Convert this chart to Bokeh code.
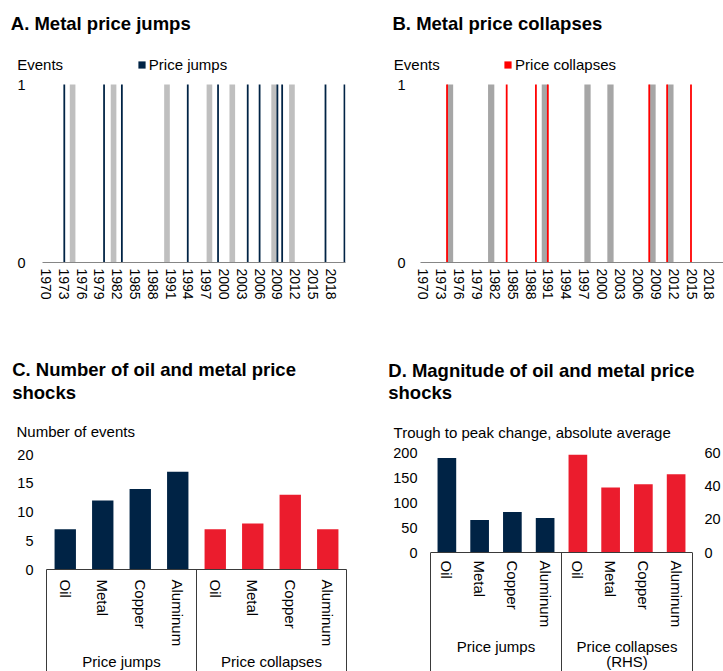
from bokeh.plotting import figure
from bokeh.models import (Range1d, FixedTicker, Label, Legend, LegendItem,
                          LinearAxis, Span)
from bokeh.layouts import column, row
from bokeh.embed import file_html
from bokeh.resources import INLINE

# ---------------- data ----------------
year_ticks = list(range(1970, 2019, 3))
metal_jump_dates = [1973.1, 1979.8, 1982.8, 1993.9, 1999.0, 2004.0, 2006.0, 2009.0, 2009.8, 2017.1, 2020.3]
metal_collapse_dates = [1974.0, 1984.0, 1988.9, 1990.9, 2007.9, 2010.9, 2014.9]
# shaded global recession / slowdown periods
slowdown_dates = [1974.5, 1981.4, 1990.4, 1997.55, 2001.4, 2008.45, 2011.45]

shock_types = ["Oil", "Metal", "Copper", "Aluminum"]
shock_groups = ["Price jumps", "Price collapses"]
count_jumps = [7, 12, 14, 17]
count_collapses = [7, 8, 13, 7]
magnitude_jumps = [189, 65, 81, 69]
magnitude_collapses_rhs = [58.6, 39, 41, 47]

count_ticks = [0, 5, 10, 15, 20]
magnitude_ticks = [0, 50, 100, 150, 200]
magnitude_rhs_ticks = [0, 20, 40, 60]

# ---------------- styles ----------------
FONT = "Liberation Sans"
NAVY = "#002345"
RED_LINE = "#FF0000"
RED_BAR = "#EB1C2D"
GREY_A = "#BFBFBF"
GREY_B = "#A6A6A6"
AXIS_GREY = "#868686"
BOX = "#3A3A3A"
TXT = 15
TICK = "14.5px"
TITLE = 18.5


class Geo:
    """page-pixel -> data converter for a figure whose frame is known"""
    def __init__(self, xr, yr, fl, fr, ft, fb):
        self.xr, self.yr, self.fl, self.fr, self.ft, self.fb = xr, yr, fl, fr, ft, fb

    def x(self, px):
        return self.xr[0] + (px - self.fl) * (self.xr[1] - self.xr[0]) / (self.fr - self.fl)

    def y(self, py):
        return self.yr[0] + (self.fb - py) * (self.yr[1] - self.yr[0]) / (self.fb - self.ft)


def base_fig(width, height, g, left, top):
    p = figure(width=width, height=height,
               x_range=Range1d(*g.xr), y_range=Range1d(*g.yr),
               min_border_left=int(g.fl - left), min_border_right=int(left + width - g.fr),
               min_border_top=int(g.ft - top), min_border_bottom=int(top + height - g.fb),
               toolbar_location=None, output_backend="svg")
    p.title.visible = False
    p.outline_line_color = None
    p.xgrid.visible = False
    p.ygrid.visible = False
    p.background_fill_color = "white"
    p.border_fill_color = "white"
    return p


def style_axis(ax, size=TICK, standoff=6, line_color=None):
    ax.axis_line_color = line_color
    ax.major_tick_line_color = None
    ax.minor_tick_line_color = None
    ax.major_tick_out = 0
    ax.major_tick_in = 0
    ax.major_label_standoff = int(round(standoff))
    ax.major_label_text_font = FONT
    ax.major_label_text_font_size = size
    ax.major_label_text_color = "black"


def text(p, s, x, g, baseline_page, side="above", size=TXT, bold=False, align="left"):
    # data-positioned label held in a side panel so it may sit outside the frame;
    # the renderer draws the text a little below the given alphabetic baseline
    y = g.y(baseline_page - 0.4 * size)
    p.add_layout(Label(x=x, y=y, text=s,
                       text_font=FONT, text_font_size=f"{size}px",
                       text_font_style="bold" if bold else "normal",
                       text_align=align, text_baseline="alphabetic",
                       text_color="black"), side)


def timeline(title, events, color, legend_label, shade_color, shade_width,
             g, left, width, title_x, events_x, legend_x, y_standoff):
    p = base_fig(width, 340, g, left, 0)
    p.vbar(x=slowdown_dates, top=1, bottom=0, width=shade_width,
           fill_color=shade_color, line_color=None)
    r = p.vbar(x=events, top=1, bottom=0, width=0.3,
               fill_color=color, line_color=None)
    style_axis(p.yaxis[0], standoff=y_standoff)
    p.yaxis[0].ticker = FixedTicker(ticks=[0, 1])
    style_axis(p.xaxis[0], size="14px", standoff=6, line_color=AXIS_GREY)
    p.xaxis[0].axis_line_width = 1.2
    p.xaxis[0].ticker = FixedTicker(ticks=year_ticks)
    p.xaxis[0].major_label_orientation = "vertical"

    legend = Legend(items=[LegendItem(label=legend_label, renderers=[r])],
                    location=(legend_x - g.fl, g.fb - 73.0), orientation="horizontal",
                    glyph_width=9, glyph_height=9, label_standoff=3,
                    label_height=17, label_width=10, padding=0, margin=0, spacing=0,
                    border_line_color=None, background_fill_alpha=0,
                    label_text_font=FONT, label_text_font_size=f"{TXT}px",
                    label_text_color="black")
    p.add_layout(legend)
    text(p, title, g.x(title_x), g, 30.5, size=TITLE, bold=True)
    text(p, "Events", g.x(events_x), g, 70)
    return p


# frames reach up to y=50 so the legend row lies inside them; 1 sits at y=84
top_end = 1 + (84 - 50) / 178
gA = Geo((1969.43, 2020.47), (0, top_end), 42, 345, 50, 262)
gB = Geo((1969.55, 2020.35), (0, top_end), 420, 723, 50, 262)
pA = timeline("A. Metal price jumps", metal_jump_dates, NAVY, "Price jumps",
              GREY_A, 0.95, gA, 0, 380, 10.3, 16.7, 136.8, 17)
pB = timeline("B. Metal price collapses", metal_collapse_dates, RED_LINE, "Price collapses",
              GREY_B, 1.05, gB, 380, 343, 392, 393.3, 503.1, 15)


def bars(title_lines, ylabel, jumps, collapses, yticks, g, left, width,
         baseline_page, title_x, title_baselines, ylabel_x, ylabel_baseline,
         y_standoff, x_label_top, group_label_rows, rhs=None):
    n = len(shock_types)
    ngroups = len(shock_groups)
    p = base_fig(width, 331, g, left, 340)
    xj = [i + 0.5 for i in range(n)]
    xc = [n + i + 0.5 for i in range(n)]
    p.vbar(x=xj, top=jumps, width=0.57, fill_color=NAVY, line_color=None)
    if rhs is None:
        p.vbar(x=xc, top=collapses, width=0.57, fill_color=RED_BAR, line_color=None)
    else:
        rhs_ticks, rhs_range, rhs_standoff = rhs
        p.extra_y_ranges = {"rhs": Range1d(*rhs_range)}
        p.vbar(x=xc, top=collapses, width=0.57, fill_color=RED_BAR, line_color=None,
               y_range_name="rhs")
        ax = LinearAxis(y_range_name="rhs")
        style_axis(ax, standoff=rhs_standoff)
        ax.ticker = FixedTicker(ticks=rhs_ticks)
        p.add_layout(ax, "right")

    style_axis(p.yaxis[0], standoff=y_standoff)
    p.yaxis[0].ticker = FixedTicker(ticks=yticks)
    xa = p.xaxis[0]
    on_frame = abs(baseline_page - g.fb) < 0.5
    # group box lines drawn as long minor ticks; label standoff compensates their extent
    tick_out = int(round(671 - g.fb + 4))
    style_axis(xa, size=f"{TXT}px", standoff=(x_label_top - g.fb) - tick_out,
               line_color=BOX if on_frame else None)
    xa.ticker = FixedTicker(ticks=xj + xc, minor_ticks=[k * n for k in range(ngroups + 1)])
    xa.major_label_overrides = {x: lab for x, lab in zip(xj + xc, shock_types * ngroups)}
    xa.major_label_orientation = "vertical"
    xa.minor_tick_line_color = BOX
    xa.minor_tick_line_width = 1
    xa.minor_tick_in = int(round(g.fb - baseline_page))
    xa.minor_tick_out = tick_out
    if not on_frame:
        p.add_layout(Span(location=0, dimension="width", line_color=BOX, line_width=1))

    for line, bl in zip(title_lines, title_baselines):
        text(p, line, g.x(title_x), g, bl, size=TITLE, bold=True)
    text(p, ylabel, g.x(ylabel_x), g, ylabel_baseline)
    for k, lines in enumerate(group_label_rows):
        for s, bl, side in lines:
            text(p, s, k * n + n / 2, g, bl, side=side, align="center")
    return p


gC = Geo((0, 8), (0, 20 + 2 / 5.75), 46, 346, 452, 569)
gD = Geo((0, 8), (-34, 200), 430, 695, 452, 569)

pC = bars(["C. Number of oil and metal price", "shocks"], "Number of events",
          count_jumps, count_collapses, count_ticks, gC, 0, 380,
          569, 11.7, [376.7, 399], 16, 436.7, 13, 579,
          [[(shock_groups[0], 667, "above")], [(shock_groups[1], 667, "above")]])

pD = bars(["D. Magnitude of oil and metal price", "shocks"],
          "Trough to peak change, absolute average",
          magnitude_jumps, magnitude_collapses_rhs, magnitude_ticks, gD, 380, 343,
          552, 387.3, [377.5, 399.5], 392.7, 437.7, 13, 560,
          [[(shock_groups[0], 651.5, "below")],
           [(shock_groups[1], 651.5, "below"), ("(RHS)", 667, "above")]],
          rhs=(magnitude_rhs_ticks, (-10.2, 60), 12))

layout = column(row(pA, pB), row(pC, pD))
open("out.html", "w").write(file_html(layout, INLINE))
